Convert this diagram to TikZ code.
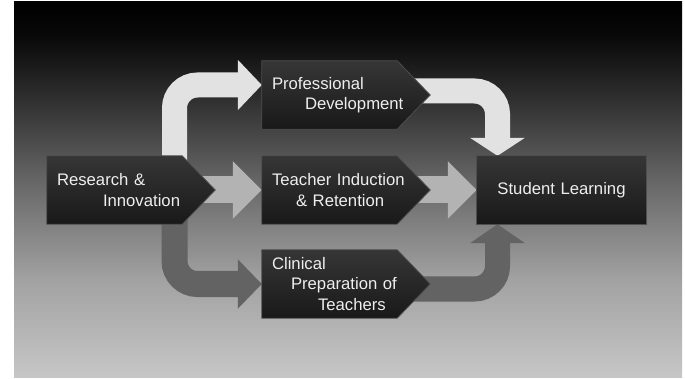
\documentclass[tikz,border=0pt]{standalone}
\usepackage{fontspec}
\setmainfont{Liberation Sans}
\usetikzlibrary{positioning,calc,arrows.meta}
\pgfdeclarelayer{backdrop}
\pgfdeclarelayer{flow}
\pgfdeclarelayer{boxes}
\pgfsetlayers{backdrop,flow,boxes,main}
\definecolor{bgA}{HTML}{080808}
\definecolor{bgB}{HTML}{303030}
\definecolor{bgC}{HTML}{6C6C6C}
\definecolor{bgD}{HTML}{A2A2A2}
\definecolor{bgE}{HTML}{C6C6C6}
\definecolor{arrLight}{HTML}{E2E2E2}
\definecolor{arrMid}{HTML}{B3B3B3}
\definecolor{arrDark}{HTML}{636363}
\definecolor{boxTop}{HTML}{363636}
\definecolor{boxBot}{HTML}{191919}
\definecolor{boxEdge}{HTML}{4E4E4E}
\definecolor{txt}{HTML}{EEEEEE}
\pgfdeclareverticalshading{bgfade}{100bp}{color(0bp)=(bgE); color(25bp)=(bgE); color(37.9bp)=(bgD); color(49.9bp)=(bgC); color(61.9bp)=(bgB); color(70.6bp)=(bgA); color(75bp)=(black); color(100bp)=(black)}
\tikzset{
  stage/.style={minimum height=68pt, text width=115pt, inner xsep=10pt, inner ysep=0pt,
    align=left, text=txt, font=\fontsize{16.7}{20.5}\selectfont},
  stagebox/.style={top color=boxTop, bottom color=boxBot, draw=boxEdge, line width=0.8pt},
  route/.style={line width=#1, rounded corners=23pt}
}

\begin{document}
\begin{tikzpicture}[x=1pt,y=-1pt]
    \useasboundingbox (0,0) rectangle (685,379);
    % backdrop
    \begin{pgfonlayer}{backdrop}
        \shade[shading=bgfade] (14,2) rectangle (682,377);
    \end{pgfonlayer}
    % stages
    \node[stage] (res) at (114.5,190) {\mbox{Research \&}\\\hspace*{46pt}\mbox{Innovation}};
    \node[stage] (prof) at (329.5,95) {\mbox{Professional}\\\hspace*{33pt}\mbox{Development}};
    \node[stage] (induct) at (329.5,190) {\mbox{Teacher Induction}\\\hspace*{24pt}\mbox{\& Retention}};
    \node[stage] (clin) at (329.5,284) {\mbox{Clinical}\\\hspace*{19pt}\mbox{Preparation of}\\\hspace*{46pt}\mbox{Teachers}};
    \node[stage, text width=149pt, align=center] (student) at (561.5,190) {Student Learning};
    % box shapes
    \begin{pgfonlayer}{boxes}
        \foreach \n in {res,prof,induct,clin}
            \path[stagebox] (\n.north west) -- (\n.north east) -- ([xshift=33pt]\n.east)
                -- (\n.south east) -- (\n.south west) -- cycle;
        \path[stagebox] (student.north west) rectangle (student.south east);
    \end{pgfonlayer}
    % block arrows
    \begin{pgfonlayer}{flow}
        \draw[arrLight, route=25pt, -{Triangle[length=24pt,width=49pt]}]
            ([xshift=60pt]res.center) |- ([yshift=10pt]prof.west);
        \draw[arrMid, line width=27pt, -{Triangle[length=29pt,width=56pt]}] (res.center) -- (induct.west);
        \draw[arrDark, route=26pt, -{Triangle[length=24pt,width=48pt]}]
            ([xshift=60pt]res.center) |- (clin.west);
        \draw[arrLight, route=25pt, -{Triangle[length=18pt,width=54pt]}]
            ([yshift=4pt]prof.center) -| ([xshift=-64pt]student.north);
        \draw[arrMid, line width=27pt, -{Triangle[length=29pt,width=56pt]}] (induct.center) -- (student.west);
        \draw[arrDark, route=25pt, -{Triangle[length=19pt,width=54pt]}]
            ([yshift=-5pt]clin.center) -| ([xshift=-64pt]student.south);
    \end{pgfonlayer}
\end{tikzpicture}
\end{document}
